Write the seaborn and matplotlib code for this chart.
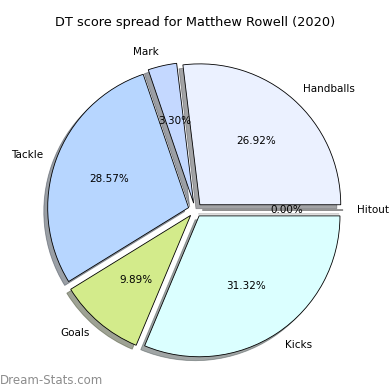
import matplotlib
matplotlib.use("Agg")
import matplotlib.pyplot as plt
import seaborn as sns

sns.set_style("white")
plt.rcParams["text.color"] = "black"

# DT score spread data
categories = ["Handballs", "Mark", "Tackle", "Goals", "Kicks", "Hitout"]
points = [49, 6, 52, 18, 57, 0]
colors = ["#ebf1ff", "#c4d8ff", "#b7d6ff", "#d3eb8b", "#dbffff", "#f0f0f0"]
explode = [0.05] * len(categories)

fig = plt.figure(figsize=(3.9, 3.9), dpi=100)
ax = fig.add_axes([0.049, 0.01, 0.903, 0.903])
ax.pie(points, labels=categories, colors=colors, explode=explode,
       autopct="%.2f%%", shadow=True, startangle=0,
       wedgeprops=dict(edgecolor="black", linewidth=0.6),
       textprops=dict(fontsize=7.5, color="black"))
ax.set_xlim(-1.25, 1.25)
ax.set_ylim(-1.25, 1.25)
ax.set_aspect("equal")
ax.set_title("DT score spread for Matthew Rowell (2020)", fontsize=9.3)
fig.text(0.0, 0.015, "Dream-Stats.com", color="grey", fontsize=8.5, alpha=0.9)

plt.savefig("out.png", dpi=100)
